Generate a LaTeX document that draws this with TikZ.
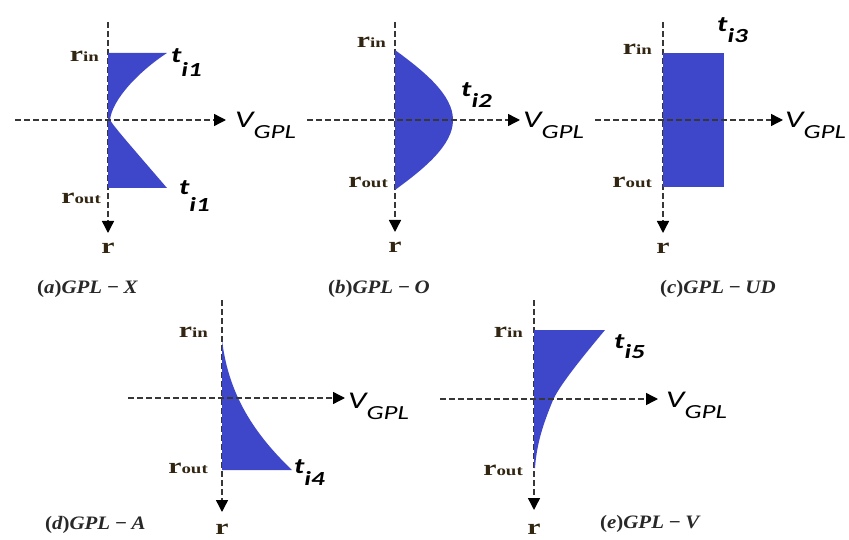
\documentclass[tikz,border=0pt]{standalone}
\usepackage{fontspec}
\usepackage{amsmath}
\usetikzlibrary{arrows.meta}
\newfontfamily\calfont{Carlito}
\newfontfamily\tnrfont{Liberation Serif}
\definecolor{gplblue}{RGB}{62,70,202}
\definecolor{axgray}{RGB}{55,55,55}
\definecolor{rink}{RGB}{50,38,18}
\definecolor{capink}{RGB}{40,40,40}
\newcommand{\xwide}[1]{\scalebox{1.35}[1]{#1}}
\newcommand{\rlabel}[1]{\xwide{\fontsize{22}{22}\selectfont r\fontsize{14}{14}\selectfont #1}}
\newcommand{\tlabel}[2]{\xwide{\fontsize{22}{22}\selectfont t\raisebox{-#2}{\fontsize{20}{20}\selectfont i#1}}}
\newcommand{\vlabel}{\xwide{\fontsize{24}{24}\selectfont V\raisebox{-11pt}{\fontsize{20}{20}\selectfont GPL}}}
\newcommand{\captext}[2]{\scalebox{1.1}[1]{{\upshape(}#1{\upshape)}GPL\hspace{4pt}−\hspace{4pt}#2}}
\tikzset{
  axis/.style={
    draw=axgray, line width=1.4pt, dash pattern=on 6pt off 3pt,
    -{Triangle[length=12pt,width=12pt,black]}
  },
  prof/.style={fill=gplblue, draw=none},
  rlab/.style={font=\tnrfont\bfseries, text=rink, inner sep=0pt},
  tlab/.style={font=\calfont\bfseries\itshape, inner sep=0pt},
  vlab/.style={font=\calfont\itshape, inner sep=0pt},
  capt/.style={font=\tnrfont\fontsize{19}{19}\selectfont\bfseries\itshape, text=capink, inner sep=0pt}
}
\begin{document}
\begin{tikzpicture}[x=1pt, y=-1pt]
  \useasboundingbox (0,0) rectangle (849,540);
  % (a) GPL-X
  \coordinate (a-top) at (108,22);
  \coordinate (a-tip) at (108,233);
  \coordinate (a-left) at (15,120);
  \coordinate (a-right) at (226,120);
  \draw[axis] (a-top) -- (a-tip);
  \fill[prof] (108,53) -- (167,53) .. controls (138,72) and (112,100) .. (110,120)
    .. controls (115,128) and (130,145) .. (167,188) -- (108,188) -- cycle;
  \draw[axis] (a-left) -- (a-right);
  \node[rlab, anchor=base east] (a-rin) at (99,62) {\rlabel{in}};
  \node[rlab, anchor=base east] (a-rout) at (101,204) {\rlabel{out}};
  \node[rlab, anchor=base] (a-r) at (108,254) {\xwide{\fontsize{22}{22}\selectfont r}};
  \node[tlab, anchor=base west] (a-tin) at (171,63) {\tlabel{1}{14pt}};
  \node[tlab, anchor=base west] (a-tout) at (179,195) {\tlabel{1}{17pt}};
  \node[vlab, anchor=base west] (a-v) at (235,128) {\vlabel};
  \node[capt, anchor=base west] (a-cap) at (37,293) {\captext{a}{X}};
  % (b) GPL-O
  \coordinate (b-top) at (395,22);
  \coordinate (b-tip) at (395,232);
  \coordinate (b-left) at (307,120);
  \coordinate (b-right) at (520,120);
  \draw[axis] (b-top) -- (b-tip);
  \fill[prof] (395,50) .. controls (425,72) and (453,95) .. (453,120)
    .. controls (453,145) and (425,168) .. (395,190) -- cycle;
  \draw[axis] (b-left) -- (b-right);
  \node[rlab, anchor=base east] (b-rin) at (386,48) {\rlabel{in}};
  \node[rlab, anchor=base east] (b-rout) at (388,188) {\rlabel{out}};
  \node[rlab, anchor=base] (b-r) at (395,253) {\xwide{\fontsize{22}{22}\selectfont r}};
  \node[tlab, anchor=base west] (b-t) at (461,97) {\tlabel{2}{11pt}};
  \node[vlab, anchor=base west] (b-v) at (523,128) {\vlabel};
  \node[capt, anchor=base west] (b-cap) at (328,293) {\captext{b}{O}};
  % (c) GPL-UD
  \coordinate (c-top) at (663,22);
  \coordinate (c-tip) at (663,233);
  \coordinate (c-left) at (595,120);
  \coordinate (c-right) at (783,120);
  \draw[axis] (c-top) -- (c-tip);
  \fill[prof] (663,53) rectangle (724,187);
  \draw[axis] (c-left) -- (c-right);
  \node[rlab, anchor=base east] (c-rin) at (652,55) {\rlabel{in}};
  \node[rlab, anchor=base east] (c-rout) at (652,188) {\rlabel{out}};
  \node[rlab, anchor=base] (c-r) at (663,254) {\xwide{\fontsize{22}{22}\selectfont r}};
  \node[tlab, anchor=base west] (c-t) at (717,32) {\tlabel{3}{11pt}};
  \node[vlab, anchor=base west] (c-v) at (785,128) {\vlabel};
  \node[capt, anchor=base west] (c-cap) at (660,293) {\captext{c}{UD}};
  % (d) GPL-A
  \coordinate (d-top) at (222,300);
  \coordinate (d-tip) at (222,512);
  \coordinate (d-left) at (128,398);
  \coordinate (d-right) at (345,398);
  \draw[axis] (d-top) -- (d-tip);
  \fill[prof] (222,340) .. controls (228,390) and (250,430) .. (292,470) -- (222,470) -- cycle;
  \draw[axis] (d-left) -- (d-right);
  \node[rlab, anchor=base east] (d-rin) at (208,337) {\rlabel{in}};
  \node[rlab, anchor=base east] (d-rout) at (208,473) {\rlabel{out}};
  \node[rlab, anchor=base] (d-r) at (222,534) {\xwide{\fontsize{22}{22}\selectfont r}};
  \node[tlab, anchor=base west] (d-t) at (294,473) {\tlabel{4}{12pt}};
  \node[vlab, anchor=base west] (d-v) at (348,408) {\vlabel};
  \node[capt, anchor=base west] (d-cap) at (45,529) {\captext{d}{A}};
  % (e) GPL-V
  \coordinate (e-top) at (534,300);
  \coordinate (e-tip) at (534,510);
  \coordinate (e-left) at (440,399);
  \coordinate (e-right) at (658,399);
  \draw[axis] (e-top) -- (e-tip);
  \fill[prof] (534,330) -- (605,330) .. controls (580,360) and (560,385) .. (553,400)
    .. controls (545,420) and (537,440) .. (535,468) -- (534,468) -- cycle;
  \draw[axis] (e-left) -- (e-right);
  \node[rlab, anchor=base east] (e-rin) at (523,337) {\rlabel{in}};
  \node[rlab, anchor=base east] (e-rout) at (523,475) {\rlabel{out}};
  \node[rlab, anchor=base] (e-r) at (534,534) {\xwide{\fontsize{22}{22}\selectfont r}};
  \node[tlab, anchor=base west] (e-t) at (614,348) {\tlabel{5}{10pt}};
  \node[vlab, anchor=base west] (e-v) at (666,407) {\vlabel};
  \node[capt, anchor=base west] (e-cap) at (600,528) {\captext{e}{V}};
\end{tikzpicture}
\end{document}
